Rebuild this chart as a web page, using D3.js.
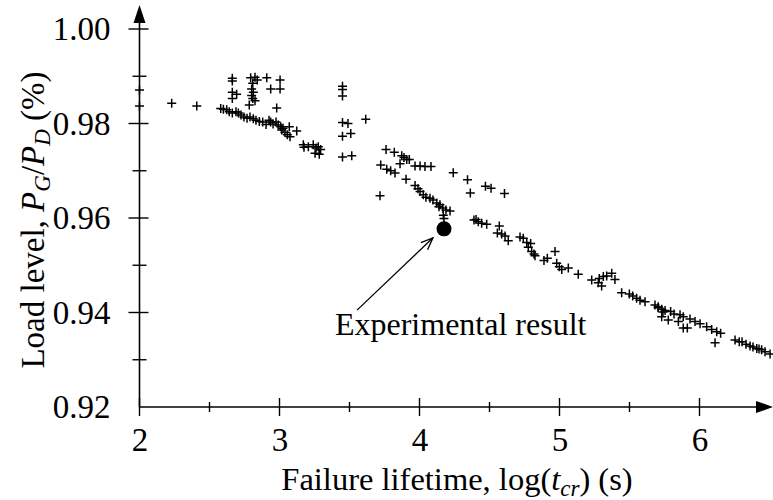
<!DOCTYPE html>
<html>
<head>
<meta charset="utf-8">
<script src="https://cdn.jsdelivr.net/npm/d3@7"></script>
<style>
  body { margin: 0; background: #fff; }
  svg { display: block; font-family: "Liberation Serif", "Times New Roman", serif; }
</style>
</head>
<body>
<div id="chart"></div>
<script>
// tick values
const xTicks = [2, 3, 4, 5, 6];
const xMinor = [2.5, 3.5, 4.5, 5.5];
const yTicks = [0.92, 0.94, 0.96, 0.98, 1.00];
const yMinor = [0.93, 0.95, 0.97, 0.99];

// simulated failures: [log(tcr), PG/PD]
const groupEarly = [
  [2.000, 0.9871], [2.000, 0.9837], [2.230, 0.9843], [2.409, 0.9837],
  [2.663, 0.9896], [2.663, 0.9890], [2.663, 0.9866], [2.694, 0.9862], [2.663, 0.9853],
  [2.794, 0.9897], [2.825, 0.9898], [2.841, 0.9892], [2.809, 0.9885], [2.909, 0.9897],
  [3.004, 0.9892], [2.937, 0.9873], [3.004, 0.9873], [2.801, 0.9873], [2.813, 0.9866],
  [2.801, 0.9859], [2.809, 0.9853], [2.825, 0.9848], [2.784, 0.9839], [2.980, 0.9833]
];
const bandA = [
  [2.580, 0.9832], [2.599, 0.9830], [2.623, 0.9829], [2.641, 0.9825], [2.663, 0.9822],
  [2.689, 0.9825], [2.706, 0.9822], [2.725, 0.9818], [2.746, 0.9814], [2.768, 0.9811],
  [2.789, 0.9814], [2.813, 0.9810], [2.832, 0.9807], [2.856, 0.9804], [2.880, 0.9803],
  [2.904, 0.9798], [2.925, 0.9807], [2.937, 0.9803], [2.954, 0.9799], [2.975, 0.9803],
  [2.991, 0.9797], [3.009, 0.9793], [3.016, 0.9786], [3.025, 0.9790], [3.039, 0.9781],
  [3.056, 0.9776], [3.075, 0.9772], [3.070, 0.9793], [3.123, 0.9784],
  [3.170, 0.9755], [3.175, 0.9750], [3.206, 0.9751], [3.241, 0.9755], [3.261, 0.9748],
  [3.254, 0.9737], [3.277, 0.9751], [3.284, 0.9735], [3.294, 0.9745]
];
const groupMid = [
  [3.450, 0.9879], [3.450, 0.9872], [3.450, 0.9858], [3.450, 0.9802], [3.489, 0.9800],
  [3.616, 0.9809], [3.450, 0.9773], [3.509, 0.9779], [3.450, 0.9729], [3.516, 0.9732],
  [3.761, 0.9745], [3.820, 0.9739], [3.873, 0.9732], [3.889, 0.9728], [3.909, 0.9724],
  [3.927, 0.9724], [3.861, 0.9715], [3.968, 0.9710], [4.004, 0.9710], [4.039, 0.9709],
  [4.082, 0.9709]
];
const bandB = [
  [3.723, 0.9712], [3.766, 0.9703], [3.794, 0.9700], [3.825, 0.9695], [3.904, 0.9682],
  [3.968, 0.9669], [3.989, 0.9662], [4.004, 0.9656], [4.027, 0.9649], [4.046, 0.9644],
  [4.075, 0.9642], [4.096, 0.9638], [4.123, 0.9632], [4.139, 0.9624], [4.146, 0.9628],
  [4.166, 0.9621], [4.189, 0.9617], [4.218, 0.9615], [4.170, 0.9606], [4.175, 0.9599],
  [3.718, 0.9647],
  [4.241, 0.9696], [4.343, 0.9681], [4.363, 0.9653], [4.471, 0.9667], [4.511, 0.9663],
  [4.607, 0.9652]
];
const bandC = [
  [4.389, 0.9596], [4.404, 0.9597], [4.420, 0.9592], [4.444, 0.9589], [4.480, 0.9587],
  [4.570, 0.9583], [4.556, 0.9568], [4.587, 0.9566], [4.611, 0.9562], [4.634, 0.9552],
  [4.718, 0.9560], [4.741, 0.9557], [4.766, 0.9548], [4.794, 0.9546], [4.777, 0.9538],
  [4.801, 0.9529], [4.818, 0.9524], [4.825, 0.9520], [4.889, 0.9510], [4.913, 0.9515],
  [4.968, 0.9529], [4.980, 0.9504], [4.999, 0.9497], [5.016, 0.9491], [5.063, 0.9494],
  [5.134, 0.9481], [5.230, 0.9469], [5.284, 0.9472], [5.313, 0.9476], [5.337, 0.9477],
  [5.373, 0.9483], [5.396, 0.9470], [5.301, 0.9456], [5.277, 0.9463]
];
const bandD = [
  [5.444, 0.9442], [5.499, 0.9439], [5.523, 0.9435], [5.551, 0.9430], [5.575, 0.9426],
  [5.611, 0.9423], [5.682, 0.9416], [5.704, 0.9410], [5.706, 0.9412], [5.730, 0.9407],
  [5.739, 0.9401], [5.754, 0.9404], [5.794, 0.9402], [5.818, 0.9397], [5.861, 0.9395],
  [5.884, 0.9391], [5.730, 0.9391], [5.777, 0.9384], [5.849, 0.9381], [5.884, 0.9367],
  [5.913, 0.9367], [5.932, 0.9386], [5.968, 0.9381], [6.004, 0.9376], [6.051, 0.9370],
  [6.087, 0.9364], [6.123, 0.9359], [6.151, 0.9356], [6.111, 0.9336],
  [6.254, 0.9342], [6.284, 0.9338], [6.304, 0.9338], [6.332, 0.9333], [6.361, 0.9329],
  [6.382, 0.9327], [6.409, 0.9324], [6.425, 0.9323], [6.444, 0.9321], [6.468, 0.9317],
  [6.504, 0.9312]
];
const simulated = [...groupEarly, ...bandA, ...groupMid, ...bandB, ...bandC, ...bandD];

// experiment and its note
const experiment = [4.175, 0.9577];
const arrowFrom = [3.554, 0.9405];
const arrowTo = [4.096, 0.9558];
const noteAt = [3.396, 0.9352];

const width = 773, height = 500;
const svg = d3.select("#chart").append("svg")
  .attr("width", width).attr("height", height);

const x = d3.scaleLinear().domain([2, 6.5]).range([139.5, 769.5]);
const y = d3.scaleLinear().domain([0.92, 1.00]).range([407, 29]);
const x0 = x(2), y0 = y(0.92);

// axes lines + arrows
svg.append("line").attr("x1", x0).attr("x2", 760).attr("y1", y0).attr("y2", y0)
  .attr("stroke", "#000").attr("stroke-width", 1.6);
svg.append("line").attr("x1", x0).attr("x2", x0).attr("y1", y0).attr("y2", 18)
  .attr("stroke", "#000").attr("stroke-width", 1.6);
svg.append("path").attr("d", `M${x0},5 L${x0 - 6},23 L${x0 + 6},23 Z`).attr("fill", "#000");
svg.append("path").attr("d", `M773,${y0} L756,${y0 - 6} L756,${y0 + 6} Z`).attr("fill", "#000");

// crossing ticks
const tickLines = svg.append("g").attr("stroke", "#000").attr("stroke-width", 1.4);
tickLines.selectAll(".xt").data(xTicks).join("line")
  .attr("x1", d => x(d)).attr("x2", d => x(d)).attr("y1", y0 - 9).attr("y2", y0 + 9);
tickLines.selectAll(".xm").data(xMinor).join("line")
  .attr("x1", d => x(d)).attr("x2", d => x(d)).attr("y1", y0 - 5).attr("y2", y0 + 5);
tickLines.selectAll(".yt").data(yTicks.filter(d => d > 0.92)).join("line")
  .attr("y1", d => y(d)).attr("y2", d => y(d)).attr("x1", x0 - 11).attr("x2", x0 + 9);
tickLines.selectAll(".ym").data(yMinor).join("line")
  .attr("y1", d => y(d)).attr("y2", d => y(d)).attr("x1", x0 - 7).attr("x2", x0 + 7);

// tick labels via axis generators
const gx = svg.append("g").attr("transform", `translate(0,${y0})`)
  .call(d3.axisBottom(x).tickValues(xTicks).tickSize(0).tickPadding(21).tickFormat(d3.format("d")));
const gy = svg.append("g").attr("transform", `translate(${x0},0)`)
  .call(d3.axisLeft(y).tickValues(yTicks).tickSize(0).tickPadding(29).tickFormat(d3.format(".2f")));
[gx, gy].forEach(g => {
  g.select(".domain").remove();
  g.selectAll("text").attr("font-family", "Liberation Serif").attr("font-size", 33).attr("fill", "#000");
});

// points
const cross = "M-4.5,0H4.5M0,-4.5V4.5";
svg.append("g").selectAll("path").data(simulated).join("path")
  .attr("transform", d => `translate(${x(d[0])},${y(d[1])})`)
  .attr("d", cross).attr("stroke", "#000").attr("stroke-width", 1.5).attr("fill", "none");

svg.append("circle").attr("cx", x(experiment[0])).attr("cy", y(experiment[1])).attr("r", 7.5)
  .attr("fill", "#000");

// annotation arrow
const ax1 = x(arrowFrom[0]), ay1 = y(arrowFrom[1]), ax2 = x(arrowTo[0]), ay2 = y(arrowTo[1]);
svg.append("line").attr("x1", ax1).attr("y1", ay1).attr("x2", ax2).attr("y2", ay2)
  .attr("stroke", "#000").attr("stroke-width", 1.3);
const ang = Math.atan2(ay2 - ay1, ax2 - ax1), hl = 13, hw = 0.38;
svg.append("path")
  .attr("d", `M${ax2 - hl * Math.cos(ang - hw)},${ay2 - hl * Math.sin(ang - hw)} L${ax2},${ay2} L${ax2 - hl * Math.cos(ang + hw)},${ay2 - hl * Math.sin(ang + hw)}`)
  .attr("fill", "none").attr("stroke", "#000").attr("stroke-width", 1.3);

svg.append("text").attr("x", x(noteAt[0])).attr("y", y(noteAt[1]))
  .attr("font-size", 32).text("Experimental result");

// axis titles
const xt = svg.append("text").attr("x", 457).attr("y", 490).attr("text-anchor", "middle").attr("font-size", 32.5);
xt.append("tspan").text("Failure lifetime, log(");
xt.append("tspan").attr("font-style", "italic").text("t");
xt.append("tspan").attr("font-style", "italic").attr("font-size", 23).attr("dy", 6).text("cr");
xt.append("tspan").attr("dy", -6).text(") (s)");

const yt = svg.append("text").attr("transform", "translate(44,220) rotate(-90)")
  .attr("text-anchor", "middle").attr("font-size", 33);
yt.append("tspan").text("Load level, ");
yt.append("tspan").attr("font-style", "italic").text("P");
yt.append("tspan").attr("font-style", "italic").attr("font-size", 23).attr("dy", 6).text("G");
yt.append("tspan").attr("dy", -6).text("/");
yt.append("tspan").attr("font-style", "italic").text("P");
yt.append("tspan").attr("font-style", "italic").attr("font-size", 23).attr("dy", 6).text("D");
yt.append("tspan").attr("dy", -6).text(" (%)");
</script>
</body>
</html>
